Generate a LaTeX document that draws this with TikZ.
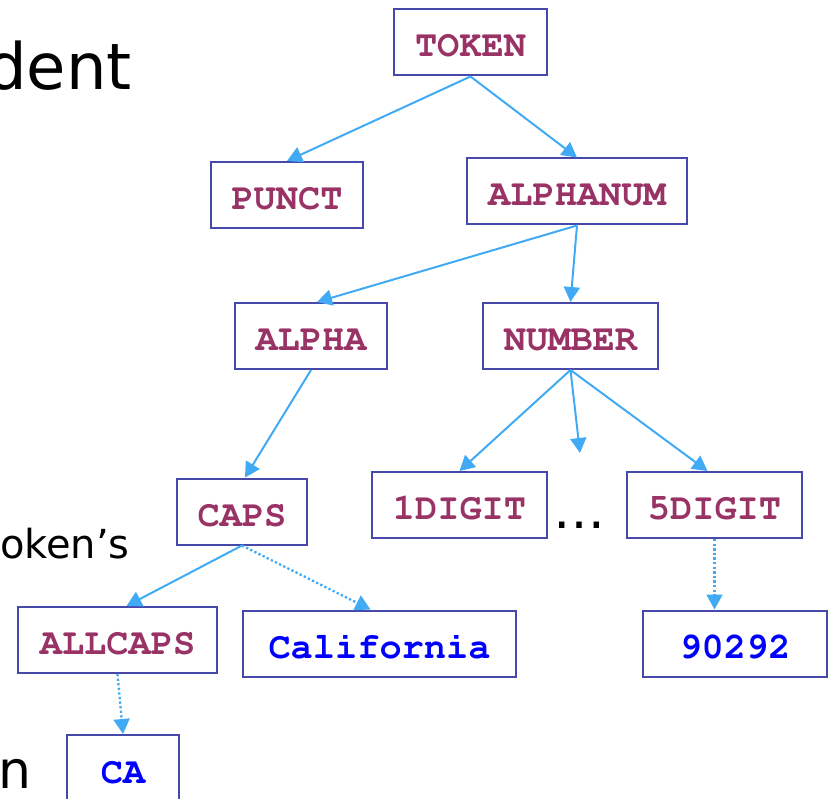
\documentclass[tikz,border=0pt]{standalone}
\usepackage[T1]{fontenc}
\usepackage{fontspec}
\setmainfont{DejaVu Sans}
\newcommand\labelfont{\fontencoding{T1}\fontfamily{pcr}\fontseries{b}\selectfont}
\usetikzlibrary{arrows.meta}

\definecolor{edgeblue}{RGB}{64,170,245}
\definecolor{boxline}{RGB}{70,72,170}
\definecolor{plum}{RGB}{153,51,102}
\definecolor{valblue}{RGB}{0,0,255}

\begin{document}
\begin{tikzpicture}[x=1pt,y=-1pt,
  cls/.style={draw=boxline, line width=2pt, fill=white,
    font=\labelfont\fontsize{37}{40}\selectfont, text=plum,
    text height=29pt, text depth=0pt, inner sep=0pt, minimum height=66pt},
  val/.style={cls, text=valblue},
  isa/.style={draw=edgeblue, line width=2pt, -{Triangle[length=15pt,width=16pt]}},
  inst/.style={isa, line width=2.3pt, dash pattern=on 2.3pt off 2.3pt},
  slide/.style={inner sep=0pt, text=black}]

\useasboundingbox (0,0) rectangle (829,799);

% slide text partly hidden behind the tree
\node[slide, anchor=base east, font=\fontsize{64}{70}\selectfont] (w1) at (132,90) {dent};
\node[slide, anchor=base east, font=\fontsize{40}{44}\selectfont] (w2) at (130,558) {oken’s};
\node[slide, anchor=base east, font=\fontsize{52}{56}\selectfont] (w3) at (32,788) {n};

% class hierarchy
\node[cls, minimum width=153pt] (token)    at (470.5,42.5) {TOKEN};
\node[cls, minimum width=152pt] (punct)    at (287,195)    {PUNCT};
\node[cls, minimum width=220pt] (alphanum) at (577,191.5)  {ALPHANUM};
\node[cls, minimum width=152pt] (alpha)    at (311,336)    {ALPHA};
\node[cls, minimum width=175pt] (number)   at (570.5,336)  {NUMBER};
\node[cls, minimum width=130pt] (caps)     at (242,511.5)  {CAPS};
\node[cls, minimum width=175pt] (d1)       at (459.5,505)  {1DIGIT};
\node[cls, minimum width=175pt] (d5)       at (714.5,505)  {5DIGIT};
\node[cls, minimum width=199pt] (allcaps)  at (117.5,640)  {ALLCAPS};

% instances
\node[val, minimum width=273pt] (calif) at (379.5,643.5) {California};
\node[val, minimum width=184pt] (zip)   at (735,643.5)   {90292};
\node[val, minimum width=112pt, minimum height=68pt] (ca) at (123,769) {CA};

% further digit classes
\node[slide, anchor=base, font=\fontsize{52}{56}\selectfont] (dots) at (579,528) {…};
\coordinate (more) at (580,453);

% subclass links
\draw[isa] (token.south) -- (punct.north);
\draw[isa] (token.south) -- (alphanum.north);
\draw[isa] (alphanum.south) -- ([xshift=6pt]alpha.north);
\draw[isa] (alphanum.south) -- (number.north);
\draw[isa] (alpha.south) -- ([xshift=3pt]caps.north);
\draw[isa] (number.south) -- (d1.north);
\draw[isa] (number.south) -- (more);
\draw[isa] (number.south) -- ([xshift=-7pt]d5.north);
\draw[isa] (caps.south) -- ([xshift=9pt]allcaps.north);

% instance links
\draw[inst] (caps.south) -- ([xshift=-9pt]calif.north);
\draw[inst] (allcaps.south) -- (ca.north);
\draw[inst] (d5.south) -- (d5.south |- zip.north);
\end{tikzpicture}
\end{document}
